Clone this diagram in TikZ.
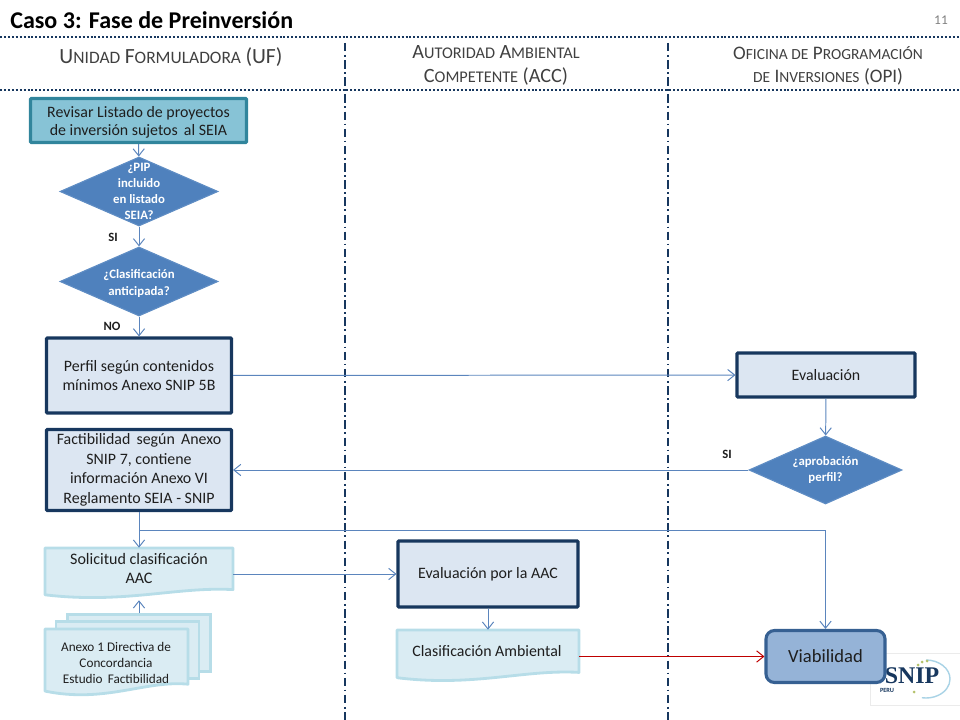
\documentclass[tikz,border=0pt]{standalone}
\usepackage{fontspec}
\setmainfont{Carlito}
\newfontfamily\logofont{Liberation Serif}
\usetikzlibrary{positioning, shapes.geometric, arrows.meta}

\definecolor{flowline}{HTML}{5B85BD}
\definecolor{darkline}{HTML}{17375E}
\definecolor{tealfill}{HTML}{87C3D6}
\definecolor{tealline}{HTML}{31859C}
\definecolor{palefill}{HTML}{DCE6F2}
\definecolor{docfill}{HTML}{DAECF3}
\definecolor{docline}{HTML}{B7DDE8}
\definecolor{decfill}{HTML}{4F81BD}
\definecolor{decline}{HTML}{5F8DC4}
\definecolor{viabfill}{HTML}{95B3D7}
\definecolor{viabline}{HTML}{366092}
\definecolor{bodytext}{HTML}{1E1E1E}
\definecolor{headtext}{HTML}{404040}
\definecolor{logoring}{HTML}{A9D3E6}
\definecolor{logodot}{HTML}{B5C26A}

\newcommand{\fs}[1]{\fontsize{#1}{#1}\selectfont}
\newcommand{\headcaps}[2]{{\fontsize{15.4}{17}\selectfont #1}{\fontsize{12.4}{17}\selectfont #2}}
\newcommand{\subcaps}[2]{{\fontsize{14.4}{16.5}\selectfont #1}{\fontsize{11.6}{16.5}\selectfont #2}}
\newcommand{\opicaps}[2]{{\fontsize{13.6}{16.5}\selectfont #1}{\fontsize{11}{16.5}\selectfont #2}}

% wavy document sheet: name, left, top, width, height
\newcommand{\wavedoc}[5]{
\draw[docshape, xshift=#2*0.025cm, yshift=-#3*0.025cm, x=#4*0.025cm, y=-#5*0.025cm]
  (0,0) -- (1,0) -- (1,.80) .. controls (.7,.74) and (.42,1.08) .. (0,.90) -- cycle ;
\node[boxsize={#4}{#5}] at (#2+#4/2,#3+#5/2) (#1) {} ;
}

\tikzset{
  boxsize/.style 2 args={minimum width=#1*0.025cm, minimum height=#2*0.025cm, inner sep=0pt},
  tealbox/.style={draw=tealline, fill=tealfill, line width=2.2pt, rounded corners=0.5pt},
  palebox/.style={draw=darkline, fill=palefill, line width=2.2pt, rounded corners=0.5pt, align=center, text=bodytext, font=\fontsize{11.3}{14}\selectfont},
  docshape/.style={draw=docline, fill=docfill, line width=2pt, line join=round},
  decision/.style={diamond, draw=decline, fill=decfill, line width=0.8pt, inner sep=0pt, aspect=2.2},
  declabel/.style={align=center, text=white, font=\fontsize{9.1}{11.4}\selectfont\bfseries},
  doclabel/.style={align=center, text=bodytext},
  lanelabel/.style={text=headtext, inner sep=0pt, align=center, font=\fontsize{14}{16.5}\selectfont},
  flow/.style={draw=flowline, line width=0.7pt, -{Straight Barb[length=5pt, width=8pt]}},
  flowred/.style={flow, draw=red!75!black},
  lanerule/.style={draw=darkline, line width=1.4pt, dash pattern=on 1.4pt off 1.4pt},
  lanesplit/.style={draw=darkline, line width=0.8pt, dash pattern=on 6pt off 2.5pt on 1.2pt off 2.5pt},
  note/.style={text=bodytext, font=\fontsize{9}{10}\selectfont\bfseries}
}

\begin{document}
\begin{tikzpicture}[x=0.025cm, y=-0.025cm]
\useasboundingbox (0,0) rectangle (960,720) ;

% heading
\node[anchor=west, font=\fontsize{17.1}{18}\selectfont\bfseries, text=black, inner sep=0pt] at (10,20) (title) {Caso 3: Fase de Preinversi\'on} ;
\node[text=gray, font=\fs{9.5}] at (941,20) (pagenum) {11} ;
\draw[lanerule] (0,37) -- (960,37) ;
\draw[lanerule] (0,90) -- (960,90) ;
\draw[lanesplit] (345,43) -- (345,720) ;
\draw[lanesplit] (668,43) -- (668,720) ;

\node[lanelabel] at (171,57) (laneuf) {\headcaps{U}{NIDAD} \headcaps{F}{ORMULADORA} \headcaps{(UF)}{}} ;
\node[lanelabel] at (496,65.5) (laneaac) {\subcaps{A}{UTORIDAD} \subcaps{A}{MBIENTAL}\\\subcaps{C}{OMPETENTE} \subcaps{(ACC)}{}} ;
\node[lanelabel] at (828,65.5) (laneopi) {\opicaps{O}{FICINA DE} \opicaps{P}{ROGRAMACI\'ON}\\\opicaps{}{DE} \opicaps{I}{NVERSIONES} \opicaps{(OPI)}{}} ;

% logo
\node[fill=white, draw=black!8, line width=0.3pt, boxsize={90}{52}] at (915,679) (logo) {} ;
\draw[draw=logoring, line width=1pt] (926,660) arc[start angle=90, end angle=-100, x radius=0.6cm, y radius=0.475cm] ;
\fill[logodot] (918,665) circle (1.5) (922,662) circle (1.5) (927,661) circle (1.5) (914,692) circle (1.5) ;
\node[text=darkline, font=\logofont\fontsize{17}{17}\selectfont\bfseries, inner sep=0pt] at (912,676) (logosnip) {SNIP} ;
\node[text=darkline, font=\fontsize{4.5}{5}\selectfont\bfseries, inner sep=0pt] at (887,690) (logoperu) {PERU} ;

% first column
\node[tealbox, boxsize={216}{44}] at (138.5,120.5) (revisar) {} ;
\node[doclabel, font=\fontsize{11.3}{13}\selectfont] at (138.5,122) (revisarlabel) {Revisar Listado de proyectos\\de inversi\'on sujetos\, al SEIA} ;
\node[decision, boxsize={158}{69}] at (139,191.5) (pip) {} ;
\node[declabel] at (139,191.5) (piplabel) {¿PIP\\incluido\\en listado\\SEIA?} ;
\node[decision, boxsize={158}{69}] at (139,281.5) (anticipada) {} ;
\node[declabel] at (139,283.5) (anticipadalabel) {¿Clasificaci\'on\\anticipada?} ;
\node[palebox, boxsize={185}{75}] at (139,375.5) (perfil) {Perfil seg\'un contenidos\\m\'inimos Anexo SNIP 5B} ;
\node[palebox, boxsize={185}{81}] at (139,470) (factibilidad) {Factibilidad\, seg\'un\, Anexo\\SNIP 7, contiene\\informaci\'on Anexo VI\\Reglamento SEIA - SNIP} ;
\wavedoc{solicitud}{45}{548}{188}{52}
\node[doclabel, font=\fontsize{11.4}{13.5}\selectfont] at (139,568) (solicitudlabel) {Solicitud clasificaci\'on\\AAC} ;

% attached sheets
\node[draw=docline, fill=docfill, line width=2pt, boxsize={143}{57}] at (139,643) (anexoback) {} ;
\node[draw=docline, fill=docfill, line width=2pt, boxsize={143}{57}] at (127.5,650) (anexomid) {} ;
\wavedoc{anexo}{45}{629}{143}{69}
\node[doclabel, font=\fontsize{9.4}{11.4}\selectfont] at (116,663) (anexolabel) {Anexo 1 Directiva de\\Concordancia\\Estudio\, Factibilidad} ;

% second column
\node[palebox, boxsize={180}{66}] at (488,574) (evalaac) {Evaluaci\'on por la AAC} ;
\wavedoc{clasif}{397}{630}{182}{53}
\node[doclabel, font=\fs{11.3}] at (487,651) (clasiflabel) {Clasificaci\'on Ambiental} ;

% third column
\node[palebox, boxsize={178}{44}] at (826,375) (evaluacion) {Evaluaci\'on} ;
\node[decision, boxsize={153}{68}] at (825.5,470) (aprobacion) {} ;
\node[declabel] at (825.5,470) (aprobacionlabel) {¿aprobaci\'on\\perfil?} ;
\node[draw=viabline, fill=viabfill, line width=2.2pt, rounded corners=6pt, boxsize={119}{52}, text=bodytext, font=\fs{13.2}] at (825.5,656.5) (viabilidad) {Viabilidad} ;

% connectors
\draw[flow] (revisar) -- (pip) ;
\draw[flow] (pip) -- (anticipada) ;
\draw[flow] (anticipada) -- (perfil) ;
\draw[flow] (perfil) -- (evaluacion) ;
\draw[flow] (evaluacion) -- (aprobacion) ;
\draw[flow] (aprobacion) -- (factibilidad) ;
\draw[flow] (factibilidad) -- (solicitud) ;
\draw[flow] (anexoback) -- (solicitud) ;
\draw[flow] (solicitud.east |- evalaac) -- (evalaac) ;
\draw[flow] (evalaac) -- (clasif) ;
\coordinate (branch) at (factibilidad.south |- 0,530) ;
\draw[flow] (branch) -| (viabilidad) ;
\draw[flowred] (clasif.east |- viabilidad) -- (viabilidad) ;

\node[note] at (113,237) (notesi) {SI} ;
\node[note] at (112,326) (noteno) {NO} ;
\node[note] at (727,454) (notesitwo) {SI} ;
\end{tikzpicture}
\end{document}
